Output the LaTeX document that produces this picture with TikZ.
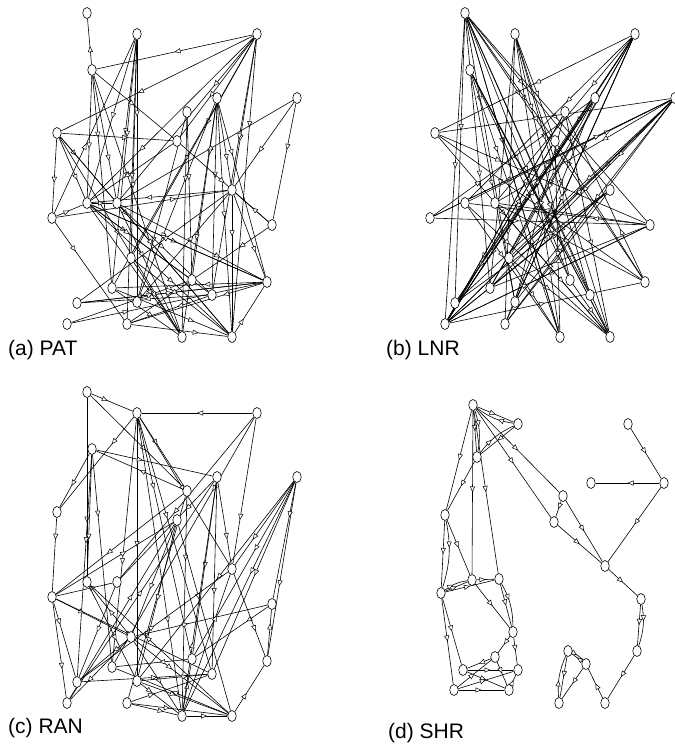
\documentclass[tikz,border=0pt]{standalone}
\usepackage{fontspec}
\setmainfont{Liberation Sans}
\usetikzlibrary{shapes.geometric,arrows.meta,decorations.markings,backgrounds}
\tikzset{
  gnode/.style={
    ellipse,
    draw=black,
    fill=white,
    line width=0.6pt,
    minimum width=8.5pt,
    minimum height=11pt,
    inner sep=0pt
  },
  gedge/.style={
    line width=0.6pt,
    postaction={decorate},
    decoration={markings,
      mark=at position #1 with {\arrow{Triangle[length=6pt,width=5pt,fill=white,line width=0.5pt]}}}
  },
  gedge/.default=0.5,
  plabel/.style={anchor=west, inner sep=0pt, font=\fontsize{21}{25}\selectfont}
}
% same node layout for PAT, LNR and RAN
\newcommand{\basenodes}[3]{
  \begin{scope}[shift={(#2,#3)}]
    \foreach \n/\px/\py in {1/87/13, 2/137/34, 3/257/34, 4/92/70, 5/217/98,
        6/297/98, 7/187/112, 8/57/133, 9/177/141, 10/232/190, 11/87/203,
        12/117/203, 13/52/218, 14/272/225, 15/131/258, 16/112/288, 17/192/280,
        18/212/295, 19/267/282, 20/77/303, 21/137/302, 22/67/324, 23/127/324,
        24/182/337, 25/232/337}
      \node[gnode] (#1\n) at (\px,\py) {};
  \end{scope}
}

\begin{document}
\begin{tikzpicture}[x=1pt, y=-1pt]
  \useasboundingbox (0,0) rectangle (675,745);

  % Nodes
  \basenodes{a}{0}{0}
  \basenodes{b}{378}{0}
  \basenodes{c}{0}{379}
  \foreach \n/\px/\py in {1/473/405, 2/518/424, 3/477/457, 4/628/424, 5/591/483,
      6/664/483, 7/563/496, 8/554/522, 9/445/515, 10/605/566, 11/472/580,
      12/499/579, 13/441/593, 14/641/599, 15/513/632, 16/637/651, 17/568/651,
      18/495/657, 19/586/664, 20/463/670, 21/518/670, 22/454/690, 23/509/690,
      24/559/703, 25/605/703}
    \node[gnode] (d\n) at (\px,\py) {};

  \begin{pgfonlayer}{background}
  % (a) PAT
  \foreach \s/\t [count=\i] in {4/1, 3/4, 3/8, 3/11, 3/12, 3/15, 3/16, 3/9, 3/10,
      3/25, 3/18, 2/11, 2/12, 2/15, 2/21, 2/16, 2/23, 4/11, 4/12, 4/16, 4/24,
      4/9, 8/9, 8/11, 8/12, 8/25, 8/24, 8/13, 5/10, 5/17, 5/18, 5/25, 5/24,
      5/21, 5/19, 6/14, 6/12, 6/10, 7/21, 7/24, 7/17, 9/14, 9/11, 13/10, 13/23,
      13/2, 13/11, 11/25, 11/24, 11/18, 11/17, 11/19, 11/12, 12/19, 12/25,
      12/24, 12/18, 10/11, 10/19, 10/25, 14/17, 14/10, 19/11, 19/20, 19/23,
      19/16, 20/19, 20/10, 22/17, 25/19, 15/25, 15/24, 16/24, 16/25, 17/23,
      18/23, 18/20, 21/10, 23/25, 22/19} {
    \pgfmathsetmacro{\p}{0.3+0.1*mod(\i,5)}
    \draw[gedge=\p] (a\s) -- (a\t);
  }
  % (b) LNR
  \foreach \s/\t [count=\i] in {1/24, 1/25, 1/17, 1/18, 1/21, 1/20, 1/22, 1/16,
      1/9, 1/19, 1/10, 1/14, 2/16, 2/24, 2/17, 2/18, 2/25, 2/9, 2/23, 3/22,
      3/23, 3/20, 3/16, 3/15, 3/12, 3/11, 3/8, 3/21, 4/17, 4/24, 4/18, 4/21,
      4/25, 5/22, 5/23, 5/16, 5/20, 6/8, 6/13, 6/22, 6/20, 6/21, 6/15, 6/23,
      6/16, 6/12, 7/21, 7/25, 7/22, 8/14, 8/25, 8/19, 9/24, 9/22, 10/22,
      10/20, 10/16, 10/23, 11/6, 11/25, 11/24, 12/19, 12/25, 13/6, 13/5,
      13/14, 14/22, 14/16, 14/12, 14/11, 15/25, 15/24, 17/25, 19/9, 19/7,
      21/3, 22/3, 22/5, 22/7, 22/10, 22/14, 22/19, 22/6, 22/9, 24/1, 25/4} {
    \pgfmathsetmacro{\p}{0.3+0.1*mod(\i,5)}
    \draw[gedge=\p] (b\s) -- (b\t);
  }
  % (c) RAN
  \foreach \s/\t [count=\i] in {1/2, 3/2, 1/7, 1/11, 2/8, 2/7, 2/21, 2/16, 2/24,
      2/17, 2/18, 2/10, 3/12, 3/10, 3/16, 4/5, 7/4, 4/8, 4/11, 4/16, 4/20,
      5/17, 5/18, 5/10, 5/12, 6/17, 6/18, 6/19, 6/10, 6/14, 6/24, 6/21, 7/13,
      7/23, 7/24, 9/25, 9/21, 9/15, 13/12, 8/13, 13/15, 13/18, 13/9, 13/22,
      13/20, 15/14, 15/11, 15/24, 15/22, 15/20, 15/25, 20/10, 20/18, 21/18,
      21/24, 21/25, 22/5, 22/9, 23/24, 23/18, 23/25, 24/25, 24/17, 24/10,
      24/5, 25/19, 25/16, 25/11, 19/14, 14/17, 17/16, 12/20, 11/21, 10/19} {
    \pgfmathsetmacro{\p}{0.3+0.1*mod(\i,5)}
    \draw[gedge=\p] (c\s) -- (c\t);
  }
  % (d) SHR
  \foreach \s/\t in {1/2, 1/3, 2/3, 1/9, 1/11, 1/12, 1/7, 1/8, 3/9, 7/8, 7/10,
      8/10, 4/6, 6/5, 6/10, 10/14, 14/16, 16/25, 25/19, 19/17, 19/24, 17/24,
      9/13, 9/11, 13/11, 13/12, 11/12, 13/20, 13/22, 11/15, 12/15, 15/21,
      15/18, 18/20, 20/21, 20/23, 22/18, 22/21, 22/23, 23/21, 18/23}
    \draw[gedge] (d\s) -- (d\t);
  \foreach \s/\t in {2/1, 1/3, 3/2, 14/16, 17/19, 24/17, 9/13, 13/11, 12/15}
    \draw[gedge=0.4] (d\s) to[bend left=14] (d\t);
  \end{pgfonlayer}

  % Labels
  \node[plabel] (la) at (8,350) {(a) PAT};
  \node[plabel] (lb) at (386,350) {(b) LNR};
  \node[plabel] (lc) at (8,728) {(c) RAN};
  \node[plabel] (ld) at (388,733) {(d) SHR};
\end{tikzpicture}
\end{document}
